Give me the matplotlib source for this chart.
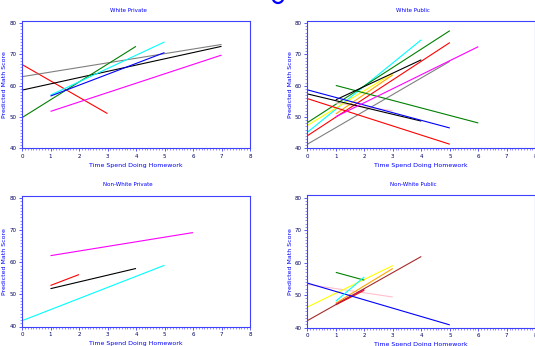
#! python3
# -*- coding: utf-8 -*-

import matplotlib
matplotlib.use('Agg')
import matplotlib.pyplot as plt
from matplotlib.patches import Arc
from matplotlib.ticker import MultipleLocator


# predicted math score lines per school group: start/end hours and scores
wpriv_x0 = [0, 0, 0, 0, 1, 1, 1]
wpriv_x1 = [3, 7, 7, 4, 5, 5, 7]
wpriv_y0 = [66.8, 62.9, 58.6, 49.8, 57.0, 56.7, 51.8]
wpriv_y1 = [51.1, 73.2, 72.6, 72.6, 74.0, 70.6, 69.8]
wpriv_col = ['red', 'gray', 'black', 'green', 'cyan', 'blue', 'magenta']

wpub_x0 = [0, 0, 0, 1, 1, 0, 0, 0, 0, 1, 1, 0, 1]
wpub_x1 = [5, 4, 5, 3, 3, 3, 5, 5, 4, 6, 4, 5, 6]
wpub_y0 = [41.3, 45.1, 48.2, 54.5, 51.0, 47.3, 44.0, 55.9, 57.4, 60.1, 55.5, 58.7, 50.1]
wpub_y1 = [67.8, 74.7, 77.6, 52.0, 63.5, 64.0, 73.8, 41.3, 48.7, 48.1, 68.3, 46.5, 72.5]
wpub_col = ['gray', 'cyan', 'green', 'pink', 'orange', 'yellow', 'red', 'red',
            'black', 'green', 'black', 'blue', 'magenta']

nwpriv_x0 = [0, 1, 1, 1]
nwpriv_x1 = [5, 4, 2, 6]
nwpriv_y0 = [41.8, 51.8, 52.8, 62.1]
nwpriv_y1 = [59.1, 58.1, 56.2, 69.3]
nwpriv_col = ['cyan', 'black', 'red', 'magenta']

nwpub_x0 = [0, 1, 1, 0, 1, 0, 0, 1, 1]
nwpub_x1 = [3, 2, 2, 3, 3, 4, 5, 2, 2]
nwpub_y0 = [53.3, 47.3, 47.0, 46.3, 47.5, 42.1, 53.7, 57.0, 48.1]
nwpub_y1 = [49.4, 51.8, 51.5, 59.1, 58.2, 61.9, 40.8, 54.6, 55.6]
nwpub_col = ['pink', 'magenta', 'red', 'yellow', 'orange', 'brown', 'blue', 'green', 'cyan']

titles = ['White Private', 'White Public', 'Non-White Private', 'Non-White Public']
x_label = 'Time Spend Doing Homework'
y_label = 'Predicted Math Score'

W, H = 535, 346


def px_box(left, top, right, bottom):
    return [left / W, 1 - bottom / H, (right - left) / W, (bottom - top) / H]


def panel(fig, box, title, tx, ty, x0, x1, y0, y1, colors):
    ax = fig.add_axes(px_box(*box))
    for a, b, c, d, col in zip(x0, x1, y0, y1, colors):
        ax.plot([a, b], [c, d], color=col, lw=0.8, solid_capstyle='butt')
    ax.set_xlim(0, 8)
    ax.set_ylim(40, 80.8)
    ax.xaxis.set_major_locator(MultipleLocator(1))
    ax.xaxis.set_minor_locator(MultipleLocator(0.1))
    ax.yaxis.set_major_locator(MultipleLocator(10))
    ax.yaxis.set_minor_locator(MultipleLocator(1))
    for s in ax.spines.values():
        s.set_color('#4040ff')
        s.set_linewidth(0.8)
    ax.tick_params(which='major', direction='out', length=2.5, width=0.6,
                   color='#4040ff', labelsize=4, labelcolor='#000060', pad=1.5)
    ax.tick_params(which='minor', direction='out', length=1.2, width=0.4, color='#4040ff')
    ax.set_xlabel(x_label, fontsize=4.5, color='blue', labelpad=3)
    ax.set_ylabel(y_label, fontsize=4.5, color='blue', labelpad=1.5)
    fig.text(tx / W, 1 - ty / H, title, fontsize=4, color='blue',
             ha='center', va='center')
    return ax


fig = plt.figure(figsize=(W / 100, H / 100), dpi=100)

panel(fig, (22, 20.7, 250, 148.3), titles[0], 128, 10,
      wpriv_x0, wpriv_x1, wpriv_y0, wpriv_y1, wpriv_col)
panel(fig, (307.3, 20.7, 535.3, 148.3), titles[1], 413, 10,
      wpub_x0, wpub_x1, wpub_y0, wpub_y1, wpub_col)
panel(fig, (22, 195.7, 250, 326.5), titles[2], 128, 185,
      nwpriv_x0, nwpriv_x1, nwpriv_y0, nwpriv_y1, nwpriv_col)
panel(fig, (307.3, 195.2, 535.3, 327.5), titles[3], 413, 185,
      nwpub_x0, nwpub_x1, nwpub_y0, nwpub_y1, nwpub_col)

# bit of a large blue glyph cut off at the top edge
arc = Arc((278 / W, 1 + 3 / H), 11 / W, 12 / H, theta1=200, theta2=340,
          color='blue', lw=1.6, transform=fig.transFigure)
fig.patches.append(arc)

fig.savefig('out.png', dpi=100)
